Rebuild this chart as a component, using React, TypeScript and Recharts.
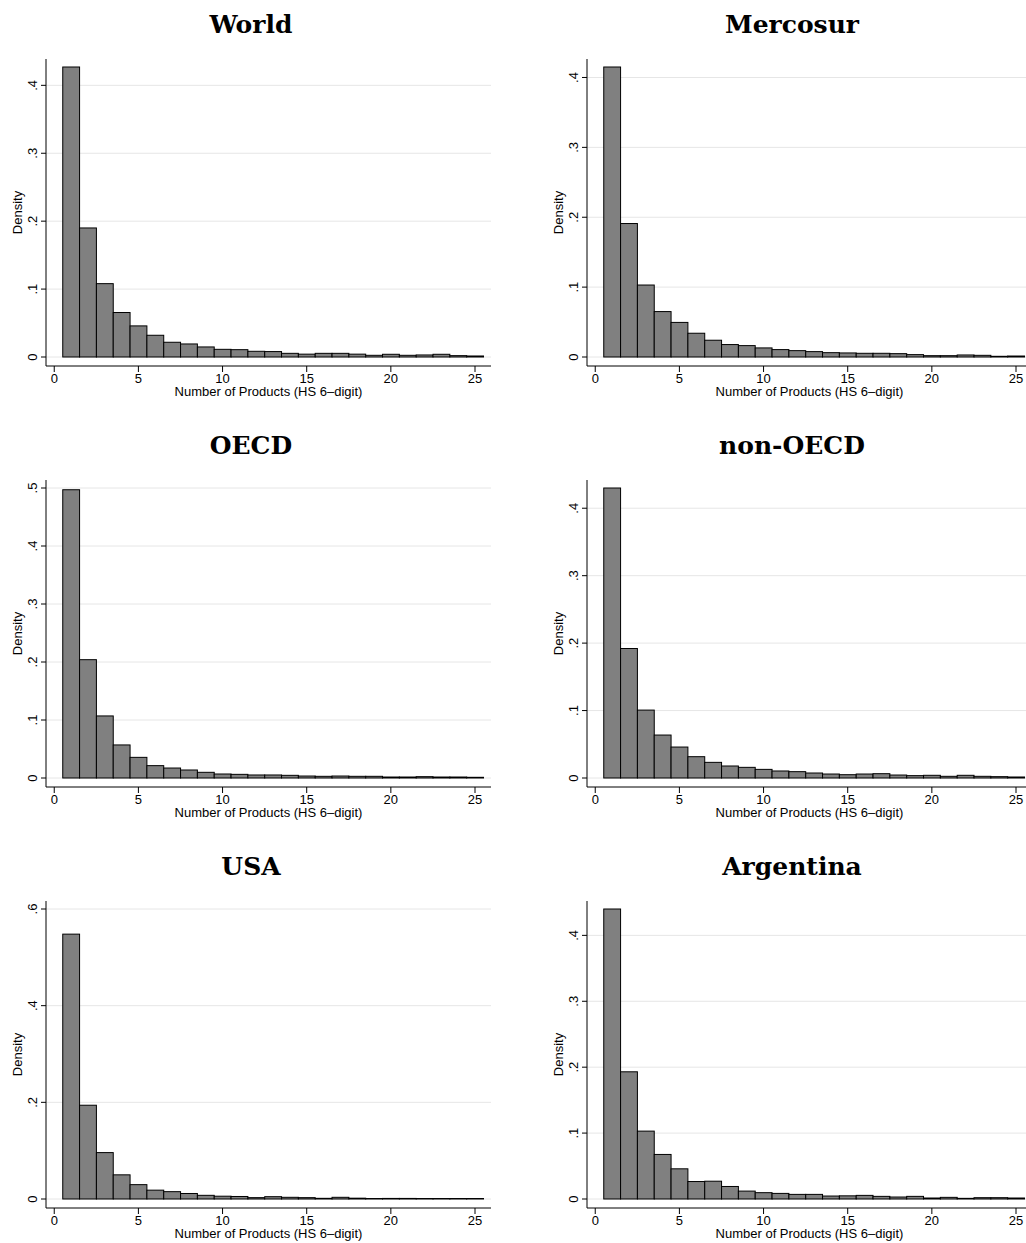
import { Bar, BarChart, CartesianGrid, XAxis, YAxis } from "recharts";

// histogram bins (number of HS 6-digit products), one bar per integer
const bins = [1, 2, 3, 4, 5, 6, 7, 8, 9, 10, 11, 12, 13, 14, 15, 16, 17, 18, 19, 20, 21, 22, 23, 24, 25];
const xTicks = [0, 5, 10, 15, 20, 25];

const worldDensity = [0.427, 0.19, 0.108, 0.0655, 0.0458, 0.032, 0.0217, 0.0192, 0.0148, 0.0113, 0.0108, 0.0084, 0.008, 0.0054, 0.0042, 0.0054, 0.0054, 0.0042, 0.0025, 0.004, 0.0025, 0.003, 0.004, 0.002, 0.0015];
const mercosurDensity = [0.415, 0.191, 0.103, 0.065, 0.0495, 0.034, 0.024, 0.0178, 0.0163, 0.013, 0.0106, 0.0091, 0.0077, 0.0062, 0.0058, 0.0053, 0.0053, 0.0048, 0.0034, 0.0019, 0.0019, 0.0029, 0.0024, 0.001, 0.0014];
const oecdDensity = [0.497, 0.204, 0.107, 0.057, 0.0356, 0.0213, 0.0172, 0.0138, 0.0098, 0.0069, 0.0063, 0.0052, 0.0052, 0.0046, 0.0034, 0.0029, 0.0034, 0.0029, 0.0029, 0.0017, 0.0017, 0.0023, 0.0017, 0.0017, 0.0012];
const nonOecdDensity = [0.43, 0.192, 0.1007, 0.0637, 0.0459, 0.0316, 0.0232, 0.0178, 0.0158, 0.0128, 0.0104, 0.0094, 0.0074, 0.0059, 0.0049, 0.0059, 0.0064, 0.0044, 0.0035, 0.004, 0.0025, 0.004, 0.0025, 0.002, 0.0015];
const usaDensity = [0.548, 0.194, 0.096, 0.05, 0.0297, 0.0183, 0.0152, 0.0114, 0.0076, 0.0058, 0.0052, 0.0028, 0.0048, 0.0035, 0.0028, 0.0014, 0.0035, 0.0017, 0.001, 0.0012, 0.0012, 0.001, 0.001, 0.001, 0.001];
const argentinaDensity = [0.44, 0.193, 0.103, 0.0676, 0.0458, 0.0265, 0.027, 0.019, 0.012, 0.0096, 0.0085, 0.007, 0.007, 0.0045, 0.0048, 0.0055, 0.004, 0.003, 0.004, 0.0015, 0.0025, 0.001, 0.002, 0.002, 0.0015];

const ticksTo4 = [0, 0.1, 0.2, 0.3, 0.4];
const ticksTo5 = [0, 0.1, 0.2, 0.3, 0.4, 0.5];
const ticksUsa = [0, 0.2, 0.4, 0.6];

const SANS = '"Liberation Sans", Arial, Helvetica, sans-serif';
const SERIF = '"DejaVu Serif", serif';

const W = 513;
const H = 421;
const M = { top: 59, right: 22, bottom: 15, left: 10 };
const Y_AXIS_W = 36;
const X_AXIS_H = 40;
const X_DOMAIN = [-0.49, 25.95];

const fmtDensity = (v: number) => (v === 0 ? "0" : String(v).replace(/^0/, ""));

function YTick(props: any) {
  const { x, y, payload } = props;
  const bx = x - 1;
  return (
    <text x={bx} y={y} transform={`rotate(-90 ${bx} ${y})`} textAnchor="middle" fontSize={13} fontFamily={SANS} fill="#000">
      {fmtDensity(payload.value)}
    </text>
  );
}

function HistBar(props: any) {
  const { x, y, width, height, unit } = props;
  if (height == null || height <= 0) return null;
  const cx = x + width / 2;
  return <rect x={cx - unit / 2} y={y} width={unit} height={height} fill="#808080" stroke="#000" strokeWidth={1} />;
}

function Panel({ title, values, ticks, left, top }: { title: string; values: number[]; ticks: number[]; left: number; top: number }) {
  const data = bins.map((b, i) => ({ bin: b, density: values[i] }));
  // Stata pads the plot region by a few pixels around data/tick range
  const peak = Math.max(Math.max(...values), ticks[ticks.length - 1]);
  const yDomain = [(-peak * 9) / 290, peak * (1 + 8 / 290)];
  const plotW = W - M.left - M.right - Y_AXIS_W;
  const unit = plotW / (X_DOMAIN[1] - X_DOMAIN[0]);

  return (
    <div style={{ position: "absolute", left, top, width: W, height: H }}>
      <div
        style={{
          position: "absolute",
          left: 0,
          top: 12,
          width: 502,
          textAlign: "center",
          fontFamily: SERIF,
          fontWeight: "bold",
          fontSize: 25,
          lineHeight: "25px",
          color: "#000",
        }}
      >
        {title}
      </div>
      <BarChart width={W} height={H} data={data} margin={M} barCategoryGap={0}>
        <CartesianGrid horizontal vertical={false} horizontalValues={ticks} stroke="#e6e6e6" />
        <XAxis
          dataKey="bin"
          type="number"
          domain={X_DOMAIN}
          allowDataOverflow
          ticks={xTicks}
          interval={0}
          height={X_AXIS_H}
          tickSize={6}
          stroke="#000"
          tick={{ fill: "#000", fontSize: 13, fontFamily: SANS }}
          label={{
            value: "Number of Products (HS 6–digit)",
            position: "insideBottom",
            offset: 10,
            style: { fill: "#000", fontSize: 13, fontFamily: SANS },
          }}
        />
        <YAxis
          type="number"
          domain={yDomain}
          allowDataOverflow
          ticks={ticks}
          interval={0}
          width={Y_AXIS_W}
          tickSize={5}
          tickMargin={3}
          stroke="#000"
          tick={(p: any) => <YTick {...p} />}
          label={{
            value: "Density",
            angle: -90,
            position: "insideLeft",
            offset: 7,
            style: { textAnchor: "middle", fill: "#000", fontSize: 13, fontFamily: SANS },
          }}
        />
        <Bar dataKey="density" isAnimationActive={false} shape={(p: any) => <HistBar {...p} unit={unit} />} />
      </BarChart>
    </div>
  );
}

export default function App() {
  return (
    <div style={{ position: "absolute", left: 0, top: 0, width: 1026, height: 1243, overflow: "hidden", background: "#fff" }}>
      <Panel title="World" values={worldDensity} ticks={ticksTo4} left={0} top={0} />
      <Panel title="Mercosur" values={mercosurDensity} ticks={ticksTo4} left={541} top={0} />
      <Panel title="OECD" values={oecdDensity} ticks={ticksTo5} left={0} top={421} />
      <Panel title="non-OECD" values={nonOecdDensity} ticks={ticksTo4} left={541} top={421} />
      <Panel title="USA" values={usaDensity} ticks={ticksUsa} left={0} top={842} />
      <Panel title="Argentina" values={argentinaDensity} ticks={ticksTo4} left={541} top={842} />
    </div>
  );
}
